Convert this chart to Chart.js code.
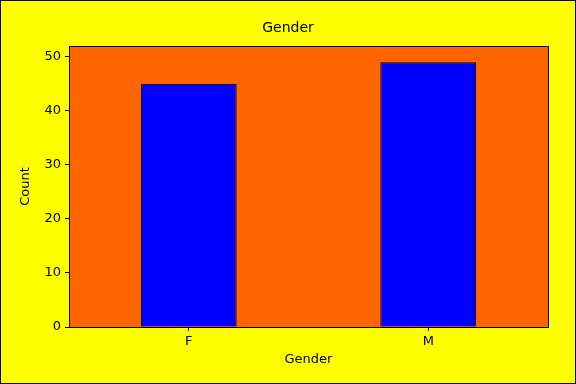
<!DOCTYPE html>
<html><head><meta charset="utf-8">
<script src="https://cdn.jsdelivr.net/npm/chart.js@4/dist/chart.umd.min.js"></script>
<style>html,body{margin:0;padding:0;background:#ffff00;}#wrap{width:576px;height:384px;}</style>
</head><body><div id="wrap"><canvas id="c" width="576" height="384"></canvas></div>
<script>
const categories = ['F', 'M'];
const counts = [45, 49];
const yTicks = [0, 10, 20, 30, 40, 50];
const chartTitle = 'Gender';
const xTitle = 'Gender';
const yTitle = 'Count';

const font = { family: 'DejaVu Sans', size: 13 };

const frame = {
  id: 'frame',
  beforeDraw(chart) {
    const ctx = chart.ctx, a = chart.chartArea;
    ctx.save();
    ctx.fillStyle = '#ffff00';
    ctx.fillRect(0, 0, chart.width, chart.height);
    ctx.fillStyle = '#ff6600';
    ctx.fillRect(a.left, a.top, a.right - a.left, a.bottom - a.top);
    ctx.restore();
  },
  afterDraw(chart) {
    const ctx = chart.ctx, a = chart.chartArea;
    ctx.save();
    ctx.strokeStyle = '#000';
    ctx.lineWidth = 1;
    ctx.strokeRect(Math.round(a.left) + 0.5, Math.round(a.top) + 0.5, Math.round(a.right - a.left), Math.round(a.bottom - a.top));
    ctx.strokeRect(0.5, 0.5, chart.width - 1, chart.height - 1);
    ctx.fillStyle = '#000';
    ctx.font = '14px "DejaVu Sans"';
    ctx.textAlign = 'center';
    ctx.textBaseline = 'middle';
    ctx.fillText(chartTitle, 288, 28);
    ctx.restore();
  }
};

new Chart(document.getElementById('c'), {
  type: 'bar',
  data: {
    labels: categories,
    datasets: [{
      data: counts,
      backgroundColor: '#0000ff',
      borderColor: '#000000',
      borderWidth: 1,
      barPercentage: 0.4,
      categoryPercentage: 1.0
    }]
  },
  options: {
    responsive: false,
    animation: false,
    devicePixelRatio: 1,
    layout: { padding: { left: 0, right: 28, top: 46, bottom: 0 } },
    plugins: {
      legend: { display: false },
      tooltip: { enabled: false },
      title: { display: false }
    },
    scales: {
      x: {
        grid: { display: true, offset: false, drawOnChartArea: false, drawTicks: true, tickLength: 4, color: '#000' },
        border: { display: true, color: '#000' },
        ticks: { color: '#000', font: font, padding: 3, maxRotation: 0 },
        title: { display: true, text: xTitle, color: '#000', font: font, padding: { top: 4, bottom: 17 } },
        afterFit(s) { s.height = 57; }
      },
      y: {
        min: 0, max: 52,
        grid: { display: true, drawOnChartArea: false, drawTicks: true, tickLength: 4, color: '#000' },
        border: { display: true, color: '#000' },
        ticks: { color: '#000', font: font, padding: 4 },
        afterBuildTicks(s) { s.ticks = yTicks.map(v => ({ value: v })); },
        title: { display: true, text: yTitle, color: '#000', font: font, padding: { top: 18, bottom: 4 } },
        afterFit(s) { s.width = 69; }
      }
    }
  },
  plugins: [frame]
});
</script></body></html>
